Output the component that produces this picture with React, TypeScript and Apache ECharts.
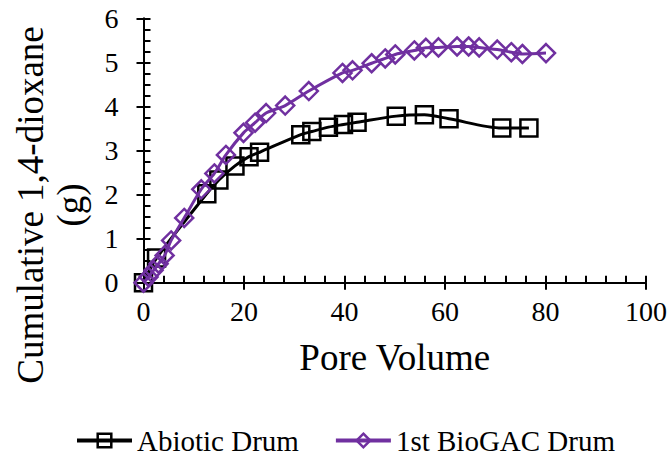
import React, { useEffect, useRef } from "react";
import * as echarts from "echarts";

const abioticX = [0, 2.6, 12.6, 15.0, 18.2, 21.0, 23.1, 31.3, 33.5, 36.8, 39.8, 42.5, 50.3, 55.9, 60.8, 71.3, 76.7];
const abioticY = [0, 0.56, 2.02, 2.33, 2.65, 2.86, 2.96, 3.36, 3.43, 3.53, 3.59, 3.64, 3.78, 3.81, 3.72, 3.51, 3.51];

const bioX = [0, 1.0, 2.0, 3.0, 4.2, 5.5, 8.1, 11.5, 14.1, 16.4, 19.9, 22.2, 24.4, 28.2, 32.9, 39.6, 41.6, 45.4, 48.1, 50.1, 53.9, 56.2, 58.7, 62.4, 64.7, 66.8, 70.4, 73.2, 75.4, 80.1];
const bioY = [0, 0.13, 0.28, 0.43, 0.62, 0.96, 1.47, 2.12, 2.48, 2.9, 3.4, 3.63, 3.85, 4.02, 4.35, 4.76, 4.82, 4.98, 5.09, 5.18, 5.27, 5.33, 5.34, 5.36, 5.36, 5.34, 5.29, 5.23, 5.19, 5.21];

const seriesNames = ["Abiotic Drum", "1st BioGAC Drum"];
const xTitle = "Pore Volume";
const yTitle = "Cumulative 1,4-dioxane\n(g)";

const FONT = '"Liberation Serif", "Times New Roman", serif';
const PURPLE = "#7030A0";

export default function App() {
  const ref = useRef<HTMLDivElement>(null);
  useEffect(() => {
    if (!ref.current) return;
    document.body.style.margin = "0";
    const chart = echarts.init(ref.current, null, { renderer: "svg" });
    const zip = (xs: number[], ys: number[]) => xs.map((x, i) => [x, ys[i]]);
    const grid = { left: 143.5, right: 23, top: 18.3, bottom: 174.3 };
    const axisLine = { show: true, lineStyle: { color: "#000", width: 2 } };
    chart.setOption({
      animation: false,
      backgroundColor: "#fff",
      grid,
      legend: {
        top: 421,
        left: 70,
        itemWidth: 55,
        itemHeight: 17,
        itemGap: 35,
        lineStyle: { width: 4 },
        itemStyle: { borderWidth: 2.5 },
        textStyle: { fontFamily: FONT, fontSize: 29, color: "#000" },
        data: seriesNames,
      },
      xAxis: [
        {
          type: "value",
          min: 0,
          max: 100,
          interval: 20,
          axisLine,
          axisTick: { show: true, inside: false, length: 7, lineStyle: { color: "#000", width: 2 } },
          axisLabel: { fontFamily: FONT, fontSize: 28, color: "#000", margin: 15 },
          splitLine: { show: false },
          name: xTitle,
          nameLocation: "middle",
          nameGap: 56,
          nameTextStyle: { fontFamily: FONT, fontSize: 37, color: "#000" },
        },
        {
          type: "value",
          min: 0,
          max: 100,
          interval: 20,
          position: "bottom",
          axisLine: { show: false },
          axisTick: { show: true, inside: true, length: 7, lineStyle: { color: "#000", width: 2 } },
          minorTick: { show: true, splitNumber: 5, length: 7, lineStyle: { color: "#000", width: 2 } },
          axisLabel: { show: false },
          splitLine: { show: false },
        },
      ],
      yAxis: [
        {
          type: "value",
          min: 0,
          max: 6,
          interval: 1,
          axisLine,
          axisTick: { show: true, inside: false, length: 7, lineStyle: { color: "#000", width: 2 } },
          axisLabel: { fontFamily: FONT, fontSize: 28, color: "#000", margin: 25 },
          splitLine: { show: false },
        },
        {
          type: "value",
          min: 0,
          max: 6,
          interval: 1,
          position: "left",
          axisLine: { show: false },
          axisTick: { show: true, inside: true, length: 7, lineStyle: { color: "#000", width: 2 } },
          minorTick: { show: true, splitNumber: 4, length: 7, lineStyle: { color: "#000", width: 2 } },
          axisLabel: { show: false },
          splitLine: { show: false },
        },
      ],
      graphic: [
        {
          type: "text",
          x: 50,
          y: 205,
          rotation: Math.PI / 2,
          style: {
            text: yTitle,
            fontFamily: FONT,
            fontSize: 37,
            lineHeight: 40,
            fill: "#000",
            align: "center",
            verticalAlign: "middle",
          },
        },
      ],
      series: [
        {
          name: seriesNames[0],
          type: "line",
          xAxisIndex: 0,
          yAxisIndex: 0,
          data: zip(abioticX, abioticY),
          smooth: 0.3,
          symbol: "rect",
          symbolSize: 17,
          lineStyle: { color: "#000", width: 3 },
          itemStyle: { color: "transparent", borderColor: "#000", borderWidth: 2.5 },
          z: 3,
        },
        {
          name: seriesNames[1],
          type: "line",
          xAxisIndex: 0,
          yAxisIndex: 0,
          data: zip(bioX, bioY),
          smooth: 0.3,
          symbol: "diamond",
          symbolSize: 18,
          lineStyle: { color: PURPLE, width: 3 },
          itemStyle: { color: "transparent", borderColor: PURPLE, borderWidth: 2.5 },
          z: 4,
        },
      ],
    });
    return () => chart.dispose();
  }, []);
  return <div ref={ref} style={{ width: 670, height: 457, position: "absolute", left: 0, top: 0 }} />;
}
